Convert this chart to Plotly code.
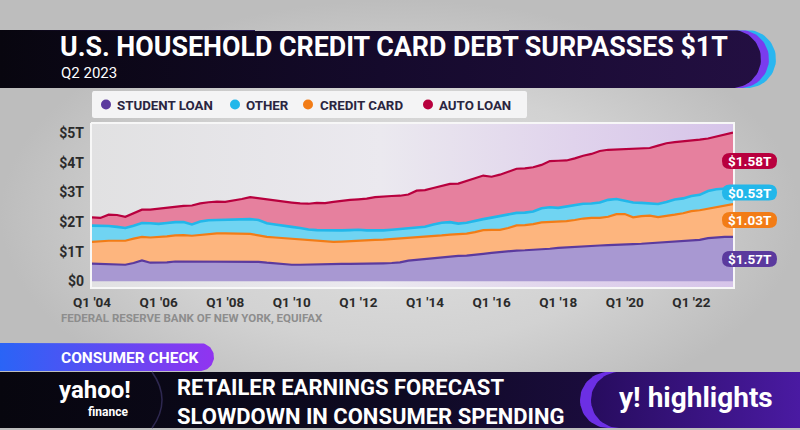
import numpy as np
import plotly.graph_objects as go

# ---------------- data (trillions of dollars) ----------------
quarters = []
for yr in range(2004, 2024):
    for q in range(1, 5):
        if yr == 2023 and q > 2:
            break
        quarters.append(f"Q{q} '{yr % 100:02d}")

student_loan = [0.60, 0.59, 0.59, 0.58, 0.56, 0.62, 0.71, 0.63, 0.63, 0.64,
                0.67, 0.67, 0.66, 0.66, 0.67, 0.67, 0.68, 0.68, 0.68, 0.67,
                0.66, 0.63, 0.60, 0.57, 0.56, 0.56, 0.57, 0.57, 0.58, 0.58,
                0.59, 0.59, 0.59, 0.60, 0.60, 0.61, 0.62, 0.64, 0.70, 0.73,
                0.76, 0.79, 0.82, 0.84, 0.86, 0.87, 0.89, 0.93, 0.96, 0.99,
                1.02, 1.04, 1.05, 1.06, 1.08, 1.10, 1.13, 1.15, 1.17, 1.19,
                1.20, 1.21, 1.22, 1.24, 1.25, 1.26, 1.27, 1.29, 1.31, 1.33,
                1.34, 1.36, 1.38, 1.40, 1.46, 1.49, 1.50, 1.50]

credit_card = [0.73, 0.77, 0.78, 0.79, 0.81, 0.82, 0.79, 0.85, 0.86, 0.88,
               0.88, 0.89, 0.88, 0.91, 0.94, 0.95, 0.94, 0.94, 0.94, 0.93,
               0.89, 0.87, 0.88, 0.89, 0.88, 0.87, 0.84, 0.81, 0.78, 0.75,
               0.75, 0.77, 0.78, 0.78, 0.80, 0.80, 0.81, 0.80, 0.75, 0.75,
               0.74, 0.73, 0.73, 0.74, 0.74, 0.74, 0.77, 0.80, 0.78, 0.75,
               0.78, 0.85, 0.85, 0.87, 0.91, 0.90, 0.88, 0.88, 0.90, 0.93,
               0.94, 0.93, 0.96, 1.03, 1.02, 0.90, 0.93, 0.93, 0.86, 0.87,
               0.91, 0.94, 0.99, 1.00, 0.99, 1.01, 1.05, 1.11]

other = [0.55, 0.52, 0.50, 0.47, 0.43, 0.44, 0.47, 0.48, 0.45, 0.45,
         0.45, 0.44, 0.38, 0.45, 0.45, 0.45, 0.46, 0.48, 0.48, 0.50,
         0.52, 0.46, 0.44, 0.41, 0.40, 0.37, 0.34, 0.35, 0.36, 0.38,
         0.38, 0.37, 0.37, 0.34, 0.31, 0.31, 0.31, 0.32, 0.33, 0.33,
         0.34, 0.40, 0.43, 0.42, 0.35, 0.37, 0.39, 0.37, 0.41, 0.46,
         0.46, 0.42, 0.42, 0.43, 0.48, 0.50, 0.47, 0.49, 0.51, 0.50,
         0.49, 0.52, 0.57, 0.51, 0.45, 0.50, 0.45, 0.41, 0.44, 0.48,
         0.51, 0.50, 0.51, 0.52, 0.60, 0.61, 0.58, 0.54]

auto_loan = [0.28, 0.26, 0.38, 0.40, 0.38, 0.42, 0.45, 0.46, 0.51, 0.53,
             0.53, 0.55, 0.64, 0.61, 0.61, 0.62, 0.60, 0.62, 0.68, 0.74,
             0.73, 0.80, 0.81, 0.82, 0.82, 0.83, 0.87, 0.92, 0.92, 0.97,
             1.00, 1.02, 1.03, 1.07, 1.13, 1.15, 1.14, 1.13, 1.15, 1.25,
             1.24, 1.23, 1.23, 1.29, 1.35, 1.40, 1.43, 1.47, 1.38, 1.40,
             1.44, 1.49, 1.49, 1.49, 1.46, 1.56, 1.59, 1.56, 1.57, 1.62,
             1.67, 1.74, 1.69, 1.67, 1.74, 1.81, 1.83, 1.87, 1.97, 1.98,
             1.94, 1.92, 1.87, 1.86, 1.77, 1.78, 1.82, 1.87]

x_tick_labels = ["Q1 '04", "Q1 '06", "Q1 '08", "Q1 '10", "Q1 '12",
                 "Q1 '14", "Q1 '16", "Q1 '18", "Q1 '20", "Q1 '22"]
y_tick_values = [0, 1, 2, 3, 4, 5]
y_tick_labels = ["$0", "$1T", "$2T", "$3T", "$4T", "$5T"]

legend_names = ["STUDENT LOAN", "OTHER", "CREDIT CARD", "AUTO LOAN"]
end_labels = ["$1.58T", "$0.53T", "$1.03T", "$1.57T"]   # auto, other, credit, student

title_text = "U.S. HOUSEHOLD CREDIT CARD DEBT SURPASSES $1T"
subtitle_text = "Q2 2023"
source_text = "FEDERAL RESERVE BANK OF NEW YORK, EQUIFAX"
headline_lines = ["RETAILER EARNINGS FORECAST", "SLOWDOWN IN CONSUMER SPENDING"]

# ---------------- styles ----------------
PURPLE, PURPLE_F = "#5b3a9e", "#a898d2"
ORANGE, ORANGE_F = "#f27c16", "#fdb57e"
CYAN, CYAN_F = "#22b7ea", "#70d4f2"
RED, RED_F = "#b8003e", "#e6809e"
FONT = "Roboto"


def rrect(x0, x1, y0, y1, rl=0.0, rr=0.0, n=18):
    xs, ys = [], []
    corners = [(x0 + rl, y0 + rl, rl, np.pi, 1.5 * np.pi),
               (x1 - rr, y0 + rr, rr, 1.5 * np.pi, 2 * np.pi),
               (x1 - rr, y1 - rr, rr, 0.0, 0.5 * np.pi),
               (x0 + rl, y1 - rl, rl, 0.5 * np.pi, np.pi)]
    for cx, cy, r, a0, a1 in corners:
        t = np.linspace(a0, a1, n)
        xs += list(cx + r * np.cos(t))
        ys += list(cy + r * np.sin(t))
    xs.append(xs[0])
    ys.append(ys[0])
    return xs, ys


fig = go.Figure()


def deco(xy, color, grad=None, gtype="horizontal", lcolor=None, lwidth=0):
    tr = go.Scatter(x=xy[0], y=xy[1], xaxis="x", yaxis="y", mode="lines",
                    fill="toself", fillcolor=color,
                    line=dict(width=lwidth, color=lcolor or color),
                    hoverinfo="skip", showlegend=False)
    if grad is not None:
        tr.fillgradient = dict(type=gtype, colorscale=grad)
    fig.add_trace(tr)


# background
deco(rrect(0, 800, 0, 430), "#d0d0d0",
     grad=[[0, "#e0e0e0"], [0.6, "#d2d2d2"], [1, "#bdbdbd"]], gtype="radial")
# title banner (cyan / purple rim + dark body)
deco(rrect(0, 776, 30, 88, 0, 29), "#2ab6f0")
deco(rrect(0, 769, 30, 88, 0, 29), "#7a3cee")
deco(rrect(0, 761, 30, 88, 0, 29), "#1a0c33",
     grad=[[0, "#08060f"], [0.5, "#150a2c"], [1, "#230f42"]])
# legend box
deco(rrect(92, 527, 91, 118, 2, 2), "#f4f4f5")
# plot area background with white rim
deco(rrect(91, 734, 123, 288), "#e6e5e9",
     grad=[[0, "#e1e1e2"], [0.45, "#ebe9ef"], [0.75, "#e0d3ec"], [1, "#d6c4e9"]],
     lcolor="#f7f7f7", lwidth=2)
# consumer check tab
deco(rrect(0, 214, 343, 371, 0, 14), "#5a4af2",
     grad=[[0, "#2a64f6"], [1, "#9134f0"]])
# bottom bar
deco(rrect(0, 800, 372, 428), "#0b0919",
     grad=[[0, "#07060e"], [0.5, "#0e0a22"], [0.75, "#1b0c3e"], [1, "#1b0c3e"]])
deco(rrect(580, 800, 372, 428, 28, 0), "#6c2fe4")
deco(rrect(591, 800, 372, 428, 28, 0), "#34127a",
     grad=[[0, "#270c5e"], [1, "#4a1aa2"]])

# ---------------- stacked areas ----------------
series = [("Student loan", student_loan, PURPLE, PURPLE_F),
          ("Credit card", credit_card, ORANGE, ORANGE_F),
          ("Other", other, CYAN, CYAN_F),
          ("Auto loan", auto_loan, RED, RED_F)]
for name, vals, lc, fc in series:
    fig.add_trace(go.Scatter(
        x=quarters, y=vals, name=name, xaxis="x2", yaxis="y2",
        stackgroup="debt", mode="lines",
        line=dict(color=lc, width=2.2 if name != "Other" else 2.6),
        fillcolor=fc, showlegend=False,
        hovertemplate=name + " %{x}: $%{y:.2f}T<extra></extra>"))

# ---------------- shapes ----------------
shapes = [
    # purple base strip under the zero line
    dict(type="rect", xref="x2 domain", yref="y2", x0=0, x1=1, y0=-0.19, y1=0,
         fillcolor=PURPLE_F, line=dict(width=0), layer="below"),
    # divider in bottom bar
    dict(type="path", xref="x", yref="y", path="M 152,372 Q 172,400 152,428",
         line=dict(color="#2e2850", width=1.5), layer="above"),
]
legend_cols = [PURPLE, CYAN, ORANGE, RED]
legend_cx = [106, 235, 308, 428]
for c, cx in zip(legend_cols, legend_cx):
    shapes.append(dict(type="circle", xref="x", yref="y", x0=cx - 5, x1=cx + 5,
                       y0=99.5, y1=109.5, fillcolor=c, line=dict(width=0),
                       layer="above"))

pill_cols = [RED, CYAN, ORANGE, PURPLE]
pill_cy = [161, 192.5, 220, 259]
px0, px1, ph = 722, 777, 16
for c, cy in zip(pill_cols, pill_cy):
    r = ph / 2
    y0, y1 = cy - r, cy + r
    path = (f"M {px0 + r},{y0} L {px1 - r},{y0} Q {px1},{y0} {px1},{cy} "
            f"Q {px1},{y1} {px1 - r},{y1} L {px0 + r},{y1} Q {px0},{y1} {px0},{cy} "
            f"Q {px0},{y0} {px0 + r},{y0} Z")
    shapes.append(dict(type="path", xref="x", yref="y", path=path, fillcolor=c,
                       line=dict(width=0), layer="above"))

# ---------------- annotations ----------------
anns = []


def ann(text, x, y, size, color="white", weight="bold", xanchor="left", family=FONT,
        align="left"):
    anns.append(dict(text=text, x=x, y=y, xref="x", yref="y", showarrow=False,
                     xanchor=xanchor, yanchor="middle", align=align,
                     font=dict(family=family, size=size, color=color, weight=weight)))


ann(title_text, 58, 47, 26.8)
ann(subtitle_text, 59, 73, 15, weight="normal")
legend_tx = [115, 244, 318, 437]
for name, tx in zip(legend_names, legend_tx):
    ann(name, tx, 105, 13.3, color="#2a2540")
for lab, cy in zip(end_labels, pill_cy):
    ann(lab, (px0 + px1) / 2, cy, 13.5, xanchor="center")
ann(source_text, 59, 318, 11.5, color="#8d8d8d")
ann("CONSUMER CHECK", 59, 357.5, 15.5)
ann("yahoo!", 57, 390, 24)
ann("finance", 130, 412, 12, xanchor="right")
ann("<br>".join(headline_lines), 175, 401.5, 22)
ann("y! highlights", 617, 397, 28)

tickfont = dict(family=FONT, size=13.5, color="#2b2b2b", weight="bold")

fig.update_layout(
    width=800, height=430, autosize=False,
    margin=dict(l=0, r=0, t=0, b=0, pad=0, autoexpand=False),
    paper_bgcolor="#d0d0d0", plot_bgcolor="rgba(0,0,0,0)",
    showlegend=False,
    xaxis=dict(domain=[0, 1], range=[0, 800], visible=False, fixedrange=True),
    yaxis=dict(domain=[0, 1], range=[430, 0], visible=False, fixedrange=True),
    xaxis2=dict(domain=[92 / 800, 733 / 800], anchor="y2", type="category",
                range=[0, len(quarters) - 1], tickvals=x_tick_labels,
                ticktext=x_tick_labels, showgrid=False, zeroline=False,
                showline=False, ticks="", tickfont=tickfont,
                ticklabelstandoff=5, automargin=False),
    yaxis2=dict(domain=[(430 - 287) / 430, (430 - 124) / 430], anchor="x2",
                range=[-0.19, 5.31], tickvals=y_tick_values, ticktext=y_tick_labels,
                showgrid=False, zeroline=False, showline=False, ticks="",
                tickfont=dict(family=FONT, size=14, color="#2b2b2b", weight="bold"),
                ticklabelstandoff=7, automargin=False),
    shapes=shapes,
    annotations=anns,
)

fig.write_html(
    "out.html",
    config={"displayModeBar": False},
    post_script="document.body.style.margin='0';document.body.style.overflow='hidden';",
)
